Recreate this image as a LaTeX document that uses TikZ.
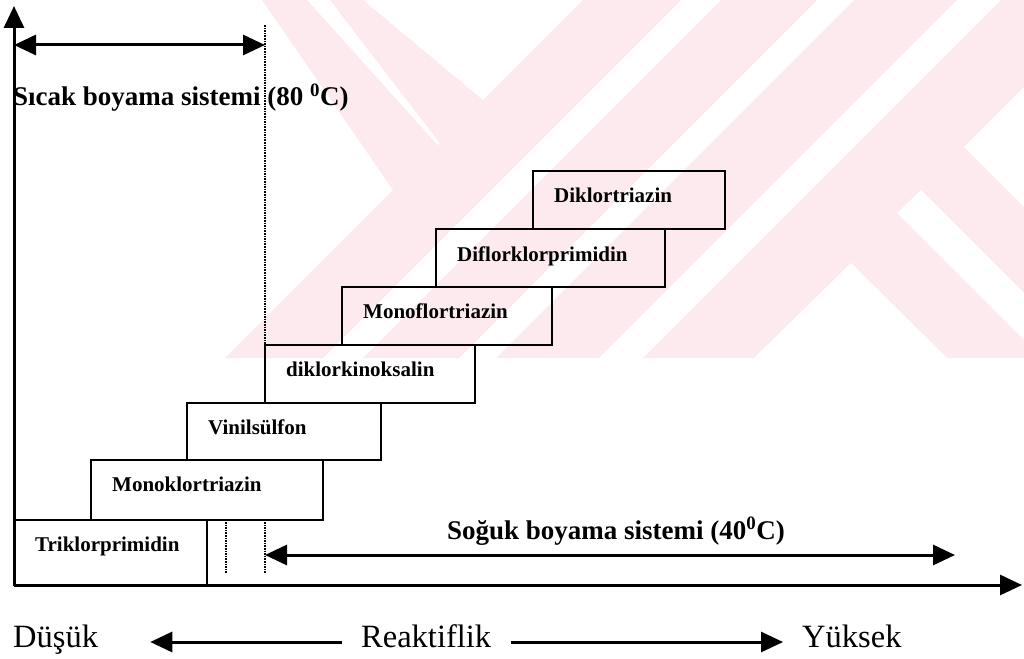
\documentclass[tikz,border=0pt]{standalone}
\usepackage{fontspec}
\setmainfont{Liberation Serif}
\usepackage{tikz}
\usetikzlibrary{arrows.meta}
\tikzset{>={Triangle[length=22pt,width=20pt]}}
\usepackage{xcolor}
\definecolor{wmpink}{RGB}{252,234,238}
\tikzstyle{stepbox}=[draw,line width=2.4pt,inner sep=0,outer sep=0,anchor=north west]
\tikzstyle{steptext}=[inner sep=0,anchor=base west,font=\fontsize{21}{24}\selectfont\bfseries]
\tikzstyle{systext}=[inner sep=0,anchor=base west,font=\fontsize{27}{30}\selectfont\bfseries]
\tikzstyle{axtext}=[inner sep=0,anchor=base west,font=\fontsize{32.5}{36}\selectfont]
\tikzstyle{arr}=[line width=3pt,->]
\tikzstyle{dots}=[densely dotted,line width=1.6pt]

\begin{document}
\begin{tikzpicture}[x=1pt,y=-1pt]
\useasboundingbox (0,0) rectangle (1024,658);

% watermark in the background
\begin{scope}
\clip (200,0) rectangle (1024,358);
\fill[wmpink] (583,0)--(681,0)--(323,358)--(225,358)--cycle;
\fill[wmpink] (721,0)--(817,0)--(459,358)--(363,358)--cycle;
\fill[wmpink] (854,0)--(957,0)--(599,358)--(496,358)--cycle;
\fill[wmpink] (1001,0)--(1024,0)--(1024,358)--(643,358)--cycle;
\fill[wmpink] (262,0)--(307,0)--(478,190)--(393,190)--cycle;
\fill[wmpink] (330,0)--(363,0)--(483,100)--(483,150)--(445,150)--cycle;
\fill[white] (1024,87)--(964,147)--(1024,207)--cycle;
\fill[white] (897,213)--(921,190)--(1024,293)--(1024,340)--cycle;
\fill[white] (851,263)--(947,358)--(754,358)--cycle;
\end{scope}

% axes
\coordinate (O) at (14,585);
\coordinate (ytip) at (14,6);
\coordinate (xtip) at (1022,585);
\draw[arr] (O) -- (ytip);
\draw[arr] (O) -- (xtip);

% steps
\node[stepbox,minimum width=193pt,minimum height=65pt] (tri) at (14,520) {};
\node[stepbox,minimum width=232pt,minimum height=60pt] (monokl) at (91,460) {};
\node[stepbox,minimum width=194pt,minimum height=57pt] (vinil) at (187,403) {};
\node[stepbox,minimum width=210pt,minimum height=58pt] (kinok) at (265,345) {};
\node[stepbox,minimum width=210pt,minimum height=58pt] (monofl) at (342,287) {};
\node[stepbox,minimum width=229pt,minimum height=58pt] (diflor) at (436,229) {};
\node[stepbox,minimum width=192pt,minimum height=58pt] (diklor) at (533,171) {};

\node[steptext] (triT) at (35,551) {Triklorprimidin};
\node[steptext] (monoklT) at (112,491) {Monoklortriazin};
\node[steptext] (vinilT) at (208,434) {Vinilsülfon};
\node[steptext] (kinokT) at (286,376) {diklorkinoksalin};
\node[steptext] (monoflT) at (363,318) {Monoflortriazin};
\node[steptext] (diflorT) at (457,261) {Diflorklorprimidin};
\node[steptext] (diklorT) at (554,202) {Diklortriazin};

% hot system
\coordinate (hotL) at (14,45);
\coordinate (hotR) at (265,45);
\coordinate (dotT) at (265,25);
\draw[arr,<->] (hotL) -- (hotR);
\draw[dots] (dotT) -- (kinok.north west);
\node[systext] (hot) at (13,106) {Sıcak boyama sistemi (80 \textsuperscript{0}C)};

% cold system
\coordinate (d1t) at (226,522);
\coordinate (d1b) at (226,574);
\coordinate (d2t) at (265,522);
\coordinate (d2b) at (265,574);
\draw[dots] (d1t) -- (d1b);
\draw[dots] (d2t) -- (d2b);
\coordinate (coldL) at (265,555);
\coordinate (coldR) at (955,555);
\draw[arr,<->] (coldL) -- (coldR);
\node[systext,anchor=base] (cold) at (616,539) {Soğuk boyama sistemi (40\textsuperscript{0}C)};

% reactivity
\node[axtext] (dusuk) at (13,647) {Düşük};
\node[axtext] (reak) at (361,647) {Reaktiflik};
\node[axtext] (yuksek) at (802,647) {Yüksek};
\draw[arr,shorten <=19pt] ([yshift=5pt]reak.base west) -- ([xshift=52pt,yshift=5pt]dusuk.base east);
\draw[arr,shorten <=20pt] ([yshift=5pt]reak.base east) -- ([xshift=-19pt,yshift=5pt]yuksek.base west);
\end{tikzpicture}
\end{document}
